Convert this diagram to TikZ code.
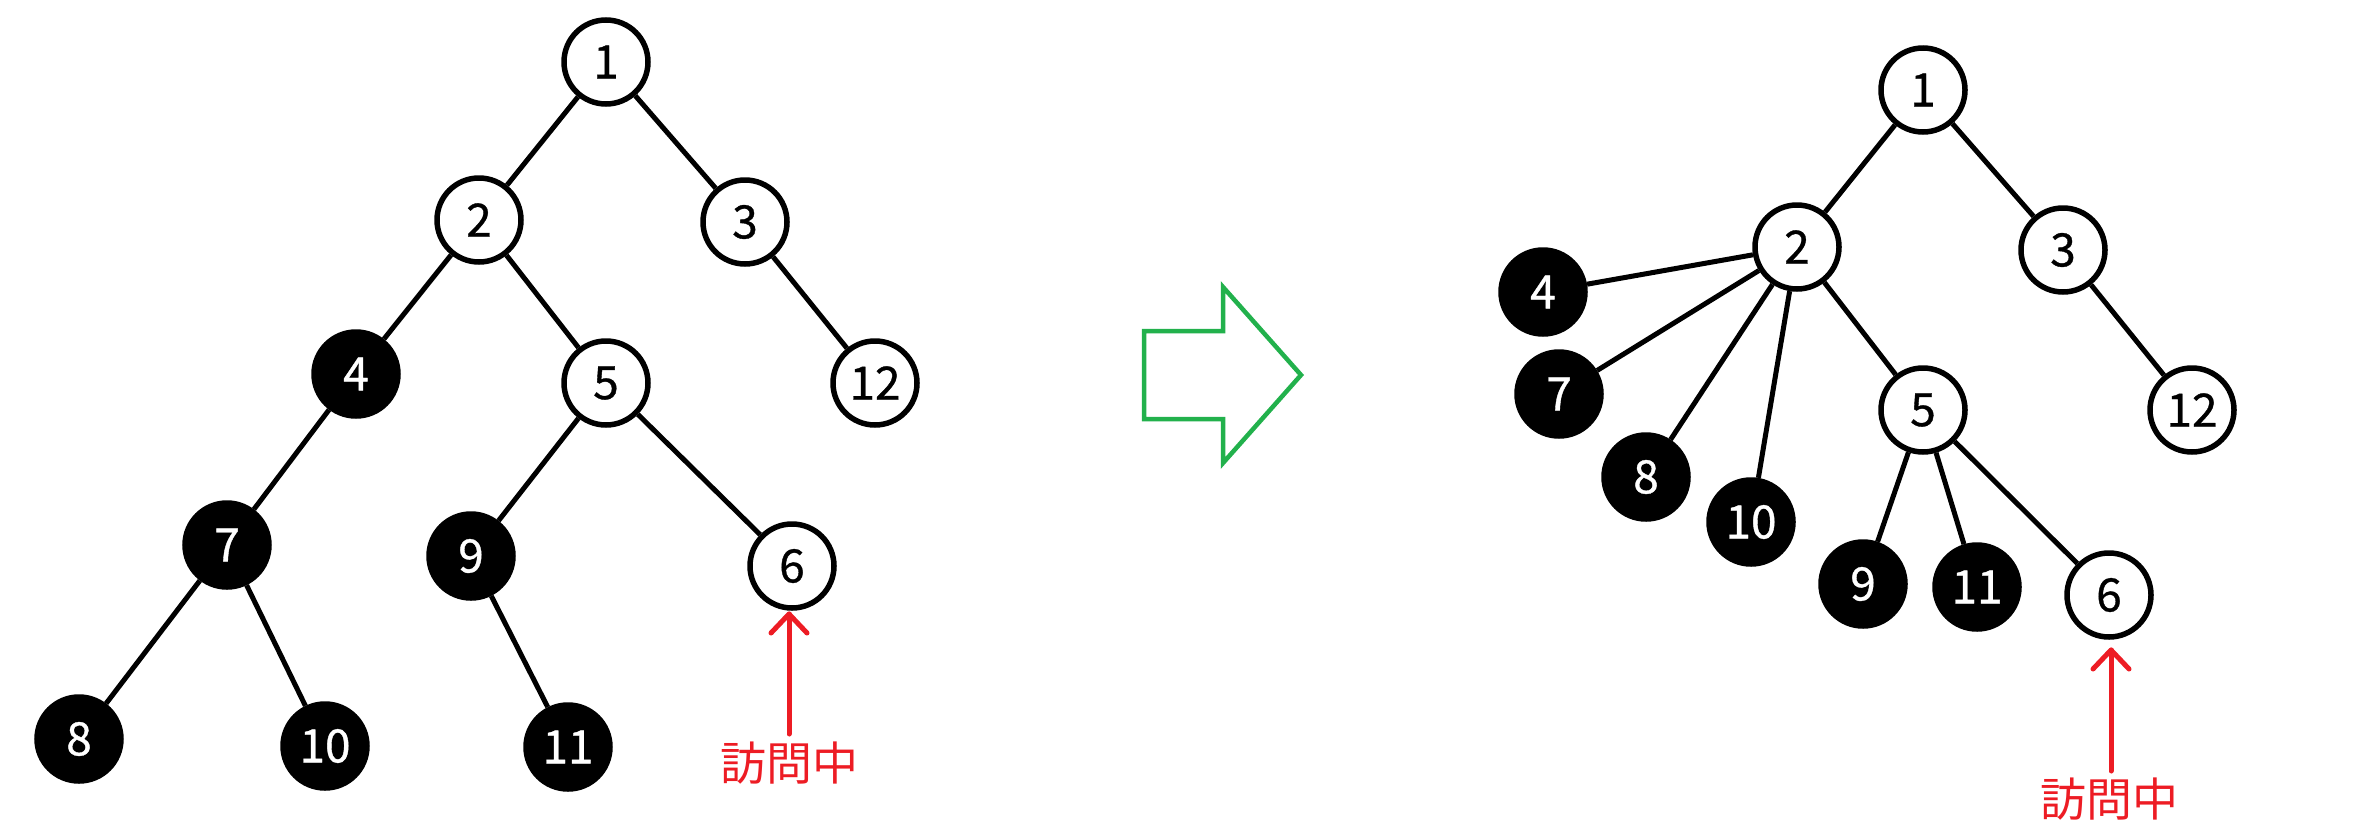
\documentclass[tikz,border=0pt]{standalone}
\usepackage{fontspec}
\setmainfont{Noto Sans CJK JP}[FakeBold=0.8]
\newfontfamily\kanjifont{Noto Sans CJK JP}
\definecolor{visitred}{HTML}{ED1C24}
\definecolor{arrowgreen}{HTML}{22B14C}
\begin{document}
\begin{tikzpicture}[x=1pt,y=-1pt,
  wnode/.style={circle,draw=black,line width=5.5pt,fill=white,minimum size=84pt,inner sep=0pt,
     font=\fontsize{46}{48}\selectfont},
  bnode/.style={wnode,fill=black,text=white},
  edge/.style={line width=5pt},
  visit/.style={draw=visitred,line width=5pt,line cap=round,line join=round},
  visittext/.style={text=visitred,font=\kanjifont\fontsize{46}{50}\selectfont,inner sep=0pt}]
\useasboundingbox (0,0) rectangle (2353,825);
% ---- left tree ----
\node[wnode] (L1) at (606,62) {1};
\node[wnode] (L2) at (479,220) {2};
\node[wnode] (L3) at (745,222) {3};
\node[bnode] (L4) at (356,374) {4};
\node[wnode] (L5) at (606,383) {5};
\node[wnode] (L12) at (875,383) {12};
\node[bnode] (L7) at (227,545) {7};
\node[bnode] (L9) at (471,556) {9};
\node[wnode] (L6) at (792,566) {6};
\node[bnode] (L8) at (79,739) {8};
\node[bnode] (L10) at (325,746) {10};
\node[bnode] (L11) at (568,747) {11};
\draw[edge] (L1) -- (L2);
\draw[edge] (L1) -- (L3);
\draw[edge] (L2) -- (L4);
\draw[edge] (L2) -- (L5);
\draw[edge] (L3) -- (L12);
\draw[edge] (L4) -- (L7);
\draw[edge] (L5) -- (L9);
\draw[edge] (L5) -- (L6);
\draw[edge] (L7) -- (L8);
\draw[edge] (L7) -- (L10);
\draw[edge] (L9) -- (L11);
\node[visittext] (LT) at (789,763) {訪問中};
\coordinate (LA) at (789,734);
\coordinate (LH) at (789,614);
\draw[visit] (LA) -- (LH);
\draw[visit] ([shift={(-18,19)}]LH) -- (LH) -- ([shift={(18,19)}]LH);
% ---- green arrow ----
\draw[arrowgreen,line width=4.5pt,line join=miter]
  (1144,331) -- (1223,331) -- (1223,287) -- (1301,375) -- (1223,463) -- (1223,419) -- (1144,419) -- cycle;
% ---- right tree ----
\node[wnode] (R1) at (1923,90) {1};
\node[wnode] (R2) at (1797,247) {2};
\node[wnode] (R3) at (2063,250) {3};
\node[bnode] (R4) at (1543,292) {4};
\node[bnode] (R7) at (1559,394) {7};
\node[bnode] (R8) at (1646,477) {8};
\node[bnode] (R10) at (1751,522) {10};
\node[wnode] (R5) at (1923,410) {5};
\node[wnode] (R12) at (2192,410) {12};
\node[bnode] (R9) at (1863,584) {9};
\node[bnode] (R11) at (1977,587) {11};
\node[wnode] (R6) at (2109,595) {6};
\draw[edge] (R1) -- (R2);
\draw[edge] (R1) -- (R3);
\draw[edge] (R3) -- (R12);
\draw[edge] (R2) -- (R4);
\draw[edge] (R2) -- (R7);
\draw[edge] (R2) -- (R8);
\draw[edge] (R2) -- (R10);
\draw[edge] (R2) -- (R5);
\draw[edge] (R5) -- (R9);
\draw[edge] (R5) -- (R11);
\draw[edge] (R5) -- (R6);
\node[visittext] (RT) at (2109,799) {訪問中};
\coordinate (RA) at (2111,771);
\coordinate (RH) at (2111,650);
\draw[visit] (RA) -- (RH);
\draw[visit] ([shift={(-18,19)}]RH) -- (RH) -- ([shift={(18,19)}]RH);
\end{tikzpicture}
\end{document}
